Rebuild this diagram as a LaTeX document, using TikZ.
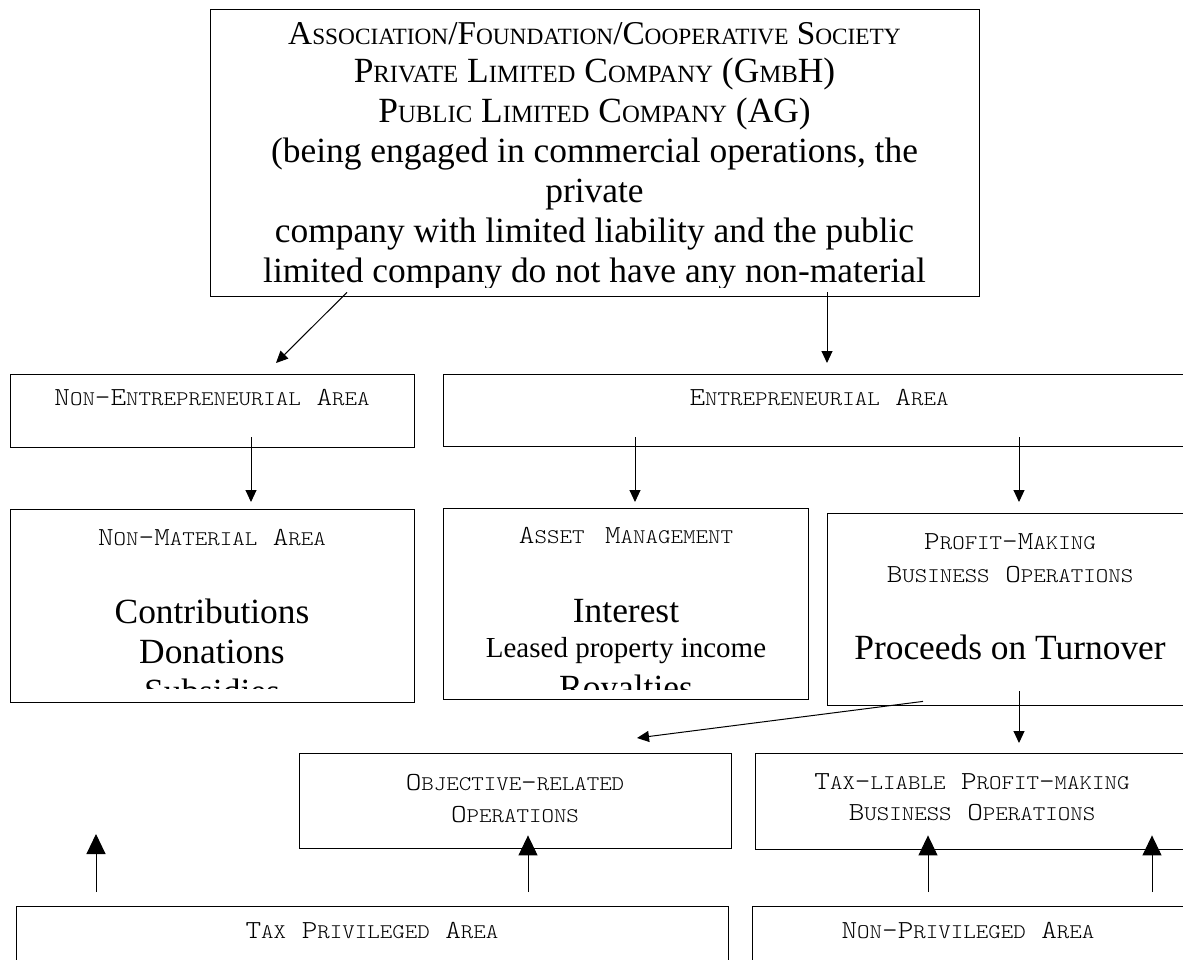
\documentclass[tikz,border=0pt]{standalone}
\usepackage{fontspec}
\setmainfont{Liberation Serif}
\setmonofont{lmmonolt10-regular.otf}[FakeStretch=1.143]
\usetikzlibrary{arrows.meta}

\makeatletter
% fake small caps: the rest of a word in smaller capitals
\newcommand{\sk}[2][0.8]{{\fontsize{\fpeval{#1*\f@size}}{0}\selectfont #2}}
\makeatother
\newcommand{\tsk}[1]{\sk[0.7]{#1}}

\begin{document}
\begin{tikzpicture}[
        x=1pt, y=-1pt,
        % Boxes
        area/.style={draw, line width=1.4pt, anchor=north west, inner sep=0pt},
        % Headings: typewriter small caps
        head/.style={font=\ttfamily\fontsize{26}{26}\selectfont, anchor=base, inner sep=0pt},
        % Serif text
        big/.style={font=\fontsize{35.4}{40}\selectfont, anchor=base, inner sep=0pt},
        mid/.style={font=\fontsize{29}{34}\selectfont, anchor=base, inner sep=0pt},
        % Arrow styles
        dn/.style={-{Triangle[length=12pt,width=11pt]}, line width=1pt},
        up/.style={-{Triangle[length=20pt,width=19pt]}, line width=1pt}
    ]

    \useasboundingbox (0,0) rectangle (1183,960);
    \clip (0,0) rectangle (1183,960);
    \fill[white] (0,0) rectangle (1183,960);

    %% ---- Boxes ----
    \node[area, minimum width=769pt, minimum height=287pt] (org) at (210,9) {};
    \node[area, minimum width=404pt, minimum height=73pt] (nonent) at (10,374) {};
    \node[area, minimum width=752pt, minimum height=72pt] (ent) at (443,374) {};
    \node[area, minimum width=404pt, minimum height=193pt] (nonmat) at (10,509) {};
    \node[area, minimum width=365pt, minimum height=191pt] (asset) at (443,508) {};
    \node[area, minimum width=366pt, minimum height=192pt] (profit) at (827,513) {};
    \node[area, minimum width=432pt, minimum height=95pt] (objrel) at (299,753) {};
    \node[area, minimum width=434pt, minimum height=96pt] (taxliab) at (755,753) {};
    \node[area, minimum width=712pt, minimum height=100pt] (taxpriv) at (16,906) {};
    \node[area, minimum width=434pt, minimum height=100pt] (nonpriv) at (752,906) {};

    %% ---- Top box text (cut off at the bottom) ----
    \begin{scope}
        \clip (211,10) rectangle (978,287);
        \node[big, font=\fontsize{33.3}{40}\selectfont] (org1) at (594.5,45)
        {A\tsk{SSOCIATION}/F\tsk{OUNDATION}/C\tsk{OOPERATIVE} S\tsk{OCIETY}};
        \node[big] (org2) at (594.5,83) {P\tsk{RIVATE} L\tsk{IMITED} C\tsk{OMPANY} (G\tsk{MB}H)};
        \node[big] (org3) at (594.5,123) {P\tsk{UBLIC} L\tsk{IMITED} C\tsk{OMPANY} (AG)};
        \node[big] (org4) at (594.5,163) {(being engaged in commercial operations, the};
        \node[big] (org5) at (594.5,203) {private};
        \node[big] (org6) at (594.5,242) {company with limited liability and the public};
        \node[big] (org7) at (594.5,282) {limited company do not have any non-material};
    \end{scope}

    %% ---- Second row ----
    \node[head] (nonentl) at (212,405) {N\sk{ON}-E\sk{NTREPRENEURIAL} A\sk{REA}};
    \node[head] (entl) at (819,405) {E\sk{NTREPRENEURIAL} A\sk{REA}};

    %% ---- Third row ----
    \node[head] (nonmatl) at (212,545) {N\sk{ON}-M\sk{ATERIAL} A\sk{REA}};
    \begin{scope}
        \clip (11,510) rectangle (413,688);
        \node[big] (contrib) at (212,623) {Contributions};
        \node[big] (donat) at (212,663) {Donations};
        \node[big] (subsid) at (212,703) {Subsidies};
    \end{scope}

    \node[head] (assetl) at (626,543) {A\sk{SSET}\hspace{5pt} M\sk{ANAGEMENT}};
    \begin{scope}
        \clip (444,509) rectangle (807,689);
        \node[big] (interest) at (626,622) {Interest};
        \node[mid] (leased) at (626,657) {Leased property income};
        \node[big] (royal) at (626,699) {Royalties};
    \end{scope}

    \node[head] (profitl1) at (1010,549) {P\sk{ROFIT}-M\sk{AKING}};
    \node[head] (profitl2) at (1010,582) {B\sk{USINESS} O\sk{PERATIONS}};
    \node[big] (proceeds) at (1010,659) {Proceeds on Turnover};

    %% ---- Fourth row ----
    \node[head] (objrell1) at (515,790) {O\sk{BJECTIVE}-\sk{RELATED}};
    \node[head] (objrell2) at (515,822) {O\sk{PERATIONS}};
    \node[head] (taxliabl1) at (972,789) {T\sk{AX}-\sk{LIABLE} P\sk{ROFIT}-\sk{MAKING}};
    \node[head] (taxliabl2) at (972,820) {B\sk{USINESS} O\sk{PERATIONS}};

    %% ---- Bottom row ----
    \node[head] (taxprivl) at (372,938) {T\sk{AX} P\sk{RIVILEGED} A\sk{REA}};
    \node[head] (nonprivl) at (968,938) {N\sk{ON}-P\sk{RIVILEGED} A\sk{REA}};

    %% ---- Downward arrows ----
    \draw[dn] ([xshift=137pt,yshift=5pt]org.south west) -- ([xshift=266pt,yshift=11pt]nonent.north west);
    \draw[dn] ([xshift=617pt,yshift=5pt]org.south west) -- ([xshift=384pt,yshift=11pt]ent.north west);
    \draw[dn] ([xshift=241pt,yshift=11pt]nonent.south west) -- ([xshift=241pt,yshift=7pt]nonmat.north west);
    \draw[dn] ([xshift=192pt,yshift=10pt]ent.south west) -- ([xshift=192pt,yshift=6pt]asset.north west);
    \draw[dn] ([xshift=576pt,yshift=10pt]ent.south west) -- ([xshift=192pt,yshift=11pt]profit.north west);
    \draw[dn] ([xshift=96pt,yshift=5pt]profit.south west) -- ([xshift=338pt,yshift=15pt]objrel.north west);
    \draw[dn] ([xshift=192pt,yshift=15pt]profit.south west) -- ([xshift=264pt,yshift=10pt]taxliab.north west);

    %% ---- Upward arrows from the bottom row ----
    \coordinate (freetip) at (96,834);
    \draw[up] ([xshift=80pt,yshift=14pt]taxpriv.north west) -- (freetip);
    \draw[up] ([xshift=512pt,yshift=14pt]taxpriv.north west) -- ([xshift=229pt,yshift=14pt]objrel.south west);
    \draw[up] ([xshift=176pt,yshift=14pt]nonpriv.north west) -- ([xshift=173pt,yshift=15pt]taxliab.south west);
    \draw[up] ([xshift=400pt,yshift=14pt]nonpriv.north west) -- ([xshift=397pt,yshift=15pt]taxliab.south west);

\end{tikzpicture}
\end{document}
